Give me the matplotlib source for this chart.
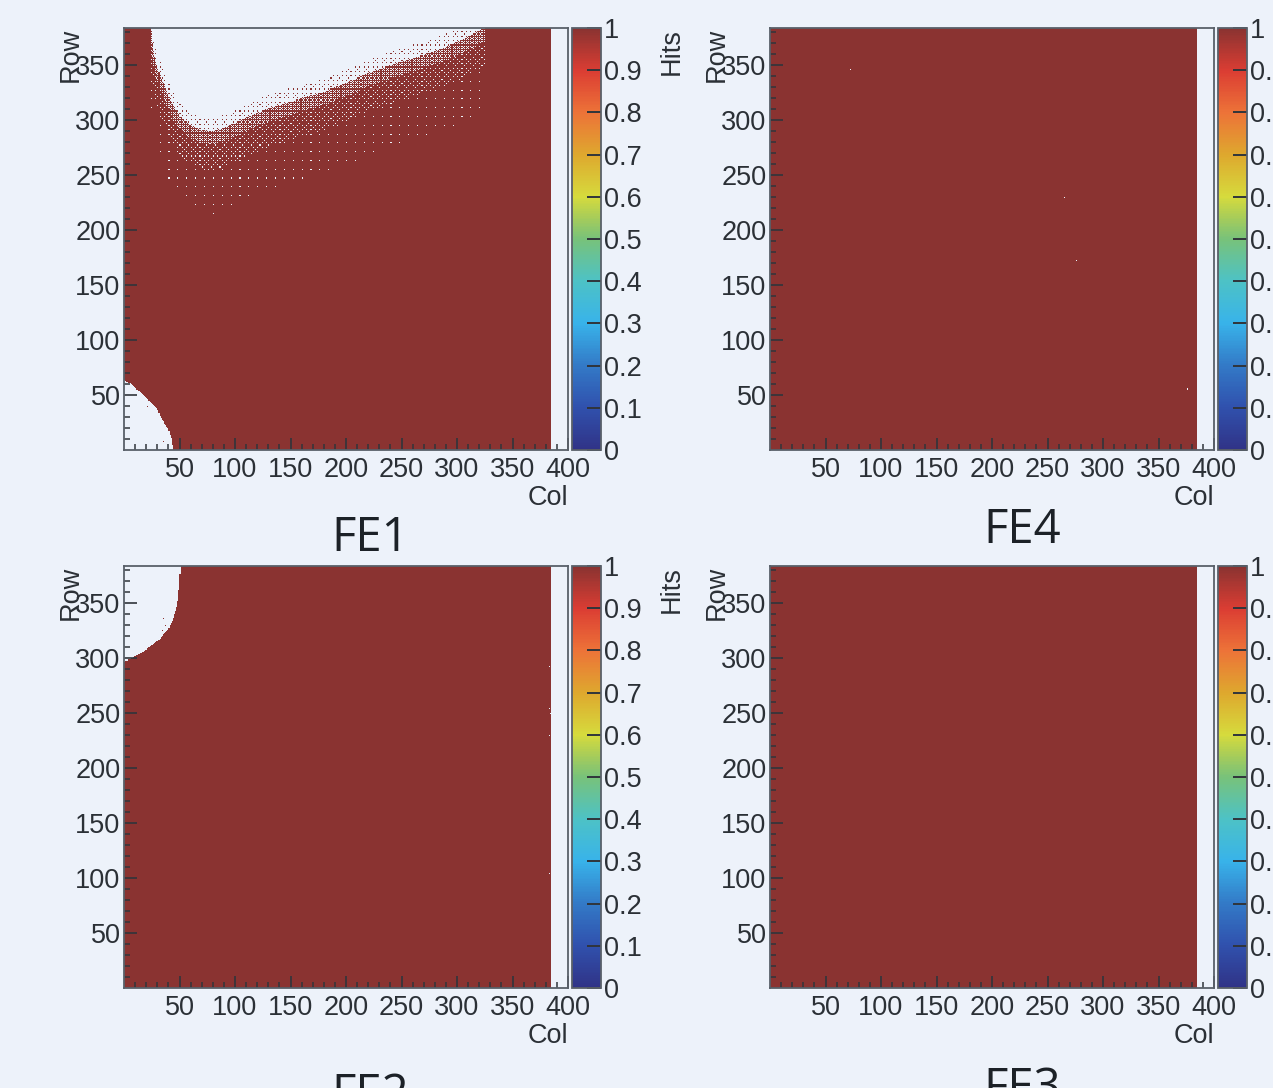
import numpy as np
import matplotlib
matplotlib.use("Agg")
import matplotlib.pyplot as plt
from matplotlib.colors import LinearSegmentedColormap
from matplotlib.path import Path
from matplotlib.ticker import FixedLocator

# ---------------------------------------------------------------- data
N_COLS = 400
N_ROWS = 384
ACTIVE_COLS = 385          # columns >= 385 carry no hits on any front end

PANEL_NAMES = ["FE1", "FE4", "FE2", "FE3"]

X_TICKS = [50, 100, 150, 200, 250, 300, 350, 400]
X_TICK_LABELS = ["50", "100", "150", "200", "250", "300", "350", "400"]
Y_TICKS = [50, 100, 150, 200, 250, 300, 350]
Y_TICK_LABELS = ["50", "100", "150", "200", "250", "300", "350"]
Z_TICKS = [0, 0.1, 0.2, 0.3, 0.4, 0.5, 0.6, 0.7, 0.8, 0.9, 1.0]
Z_TICK_LABELS = ["0", "0.1", "0.2", "0.3", "0.4", "0.5", "0.6", "0.7", "0.8", "0.9", "1"]

# FE1: upper edge of the hit area (above it the pixels are empty)
FE1_EDGE_COLS = [24, 26, 29, 33, 38, 44, 52, 60, 70, 80, 92, 105, 120, 140,
                 160, 180, 200, 220, 245, 275, 300, 315, 325]
FE1_EDGE_ROWS = [384, 365, 352, 340, 328, 314, 302, 296, 291, 290, 294, 300,
                 307, 314, 320, 326, 334, 343, 352, 361, 371, 379, 384]
# occupancy of the ragged band around that edge (row offsets from the edge)
FE1_BAND_OFFSETS = [12, 0, -12, -35, -75]
FE1_BAND_OCCUPANCY = [5 / 64, 44 / 64, 58 / 64, 63 / 64]

# FE1: empty corner at the bottom left
FE1_CORNER_COLS = [0, 5, 12, 22, 30, 34, 40, 43, 44, 0]
FE1_CORNER_ROWS = [64, 61, 55, 46, 37, 28, 19, 10, 0, 0]
FE1_STRAY_HITS = [(21, 39), (35, 7)]

# FE2: empty corner at the top left
FE2_CORNER_COLS = [0, 5, 10, 15, 20, 25, 30, 35, 40, 44, 47, 49, 50, 51, 51, 0]
FE2_CORNER_ROWS = [297, 299, 302, 305, 308, 312, 316, 321, 327, 335, 345, 355,
                   370, 384, 1000, 1000]
FE2_STRAY_HITS = [(35, 336), (34, 325), (37, 329)]

# isolated dead pixels (col, row)
FE2_DEAD = [(383, 292), (383, 254), (384, 249), (383, 229), (383, 104)]
FE4_DEAD = [(72, 346), (265, 229), (276, 172), (376, 55)]
FE3_DEAD = []

# ---------------------------------------------------------------- style
W, H = 1273, 1088
BG = "#edf2fa"
FRAME = "#596069"
TXT = "#2b3036"
plt.rcParams["font.family"] = ["Liberation Sans", "DejaVu Sans"]
FS = 19.5

cmap = LinearSegmentedColormap.from_list("root_rainbow", [
    (0.00, "#303387"), (0.10, "#3051ad"), (0.20, "#337ac7"), (0.30, "#38b3ea"),
    (0.40, "#4dc2c6"), (0.50, "#78c27a"), (0.55, "#a6cc5a"), (0.60, "#d6db3d"),
    (0.70, "#dea82e"), (0.80, "#ed7338"), (0.90, "#db3d33"), (1.00, "#8a3331")])
cmap.set_bad((0, 0, 0, 0))

# ---------------------------------------------------------------- hit maps
cc, rr = np.meshgrid(np.arange(N_COLS) + 0.5, np.arange(N_ROWS) + 0.5)
PTS = np.column_stack([cc.ravel(), rr.ravel()])


def inside(cols, rows, dy=0.0):
    verts = np.column_stack([cols, np.asarray(rows, float) + dy])
    return Path(verts).contains_points(PTS).reshape(N_ROWS, N_COLS)


def bayer(n):
    m = np.array([[0, 2], [3, 1]])
    while m.shape[0] < n:
        m = np.block([[4 * m, 4 * m + 2], [4 * m + 3, 4 * m + 1]])
    return (m + 0.5) / m.size


def base_map():
    hit = np.ones((N_ROWS, N_COLS), bool)
    hit[:, ACTIVE_COLS:] = False
    return hit


def kill(hit, pix):
    for c, r in pix:
        hit[r, c] = False


def fe1_map():
    ecols = FE1_EDGE_COLS + [FE1_EDGE_COLS[-1], FE1_EDGE_COLS[0]]
    erows = FE1_EDGE_ROWS + [1000, 1000]
    occ = np.ones((N_ROWS, N_COLS))
    offs = FE1_BAND_OFFSETS
    # widest band first, narrower ones overwrite
    for k in range(len(FE1_BAND_OCCUPANCY) - 1, -1, -1):
        occ[inside(ecols, erows, offs[k + 1])] = FE1_BAND_OCCUPANCY[k]
    occ[inside(ecols, erows, offs[0])] = 0.0
    thr = np.tile(bayer(8), (N_ROWS // 8 + 1, N_COLS // 8 + 1))[:N_ROWS, :N_COLS]
    hit = base_map() & (thr < occ)
    hit[inside(FE1_CORNER_COLS, FE1_CORNER_ROWS)] = False
    for c, r in FE1_STRAY_HITS:
        hit[r, c] = True
    return hit


def fe2_map():
    hit = base_map()
    hit[inside(FE2_CORNER_COLS, FE2_CORNER_ROWS)] = False
    for c, r in FE2_STRAY_HITS:
        hit[r, c] = True
    kill(hit, FE2_DEAD)
    return hit


def fe4_map():
    hit = base_map()
    kill(hit, FE4_DEAD)
    return hit


def fe3_map():
    hit = base_map()
    kill(hit, FE3_DEAD)
    return hit


MAPS = [fe1_map(), fe4_map(), fe2_map(), fe3_map()]

# ---------------------------------------------------------------- figure
fig = plt.figure(figsize=(W / 100, H / 100), dpi=100, facecolor=BG)

# top-left pixel corner of each axes frame
ORIGINS = [(124, 28), (770, 28), (124, 566), (770, 566)]
AX_W, AX_H = 444, 422
CB_GAP, CB_W = 4, 29
# FE label (centre x, baseline y) in pixels
LABEL_POS = [(370, 551), (1022, 543), (370, 1108), (1022, 1102)]


def fx(px):
    return px / W


def fy(py):
    return 1 - py / H


for i, hit in enumerate(MAPS):
    x0, y0 = ORIGINS[i]
    ax = fig.add_axes([fx(x0), fy(y0 + AX_H), AX_W / W, AX_H / H])
    ax.set_facecolor(BG)
    z = np.where(hit, 1.0, np.nan)
    im = ax.imshow(z, origin="lower", extent=(0, N_COLS, 0, N_ROWS), cmap=cmap,
                   vmin=0, vmax=1, interpolation="nearest",
                   interpolation_stage="rgba", aspect="auto")
    ax.set_xlim(0, N_COLS)
    ax.set_ylim(0, N_ROWS)
    ax.xaxis.set_major_locator(FixedLocator(X_TICKS))
    ax.set_xticklabels(X_TICK_LABELS)
    ax.xaxis.set_minor_locator(FixedLocator([v for v in range(10, 400, 10) if v % 50]))
    ax.yaxis.set_major_locator(FixedLocator(Y_TICKS))
    ax.set_yticklabels(Y_TICK_LABELS)
    ax.yaxis.set_minor_locator(FixedLocator([v for v in range(10, 384, 10) if v % 50]))
    ax.tick_params(which="both", direction="in", top=False, right=False,
                   color="#30353b", labelcolor=TXT, labelsize=FS)
    ax.tick_params(which="major", length=9, width=1.2)
    ax.tick_params(which="minor", length=4.2, width=1.1)
    ax.tick_params(axis="x", which="major", pad=5)
    ax.tick_params(axis="y", which="major", pad=2.5)
    for s in ax.spines.values():
        s.set_color(FRAME)
        s.set_linewidth(1.3)

    cax = fig.add_axes([fx(x0 + AX_W + CB_GAP), fy(y0 + AX_H), CB_W / W, AX_H / H])
    cb = fig.colorbar(im, cax=cax, ticks=Z_TICKS)
    cb.ax.set_yticklabels(Z_TICK_LABELS)
    cb.ax.yaxis.set_ticks_position("right")
    cb.ax.tick_params(direction="in", length=10, width=1.4, pad=2,
                      color="#30353b", labelcolor=TXT, labelsize=FS)
    cb.ax.minorticks_off()
    cb.outline.set_edgecolor(FRAME)
    cb.outline.set_linewidth(1.3)

    # axis titles, ROOT style
    fig.text(fx(x0 - 53), fy(y0), "Row", rotation=90, ha="center", va="top",
             fontsize=FS, color=TXT)
    fig.text(fx(x0 + AX_W), fy(y0 + AX_H + 48), "Col", ha="right", va="center",
             fontsize=FS, color=TXT)
    hx = x0 + 548
    if hx < W:
        fig.text(fx(hx), fy(y0), "Hits", rotation=90, ha="center", va="top",
                 fontsize=FS, color=TXT)

    lx, ly = LABEL_POS[i]
    fig.text(fx(lx), fy(ly), PANEL_NAMES[i], ha="center", va="baseline",
             fontsize=34, color="#1c2127", family=["Open Sans", "DejaVu Sans"])

fig.savefig("out.png", dpi=100, facecolor=BG)
